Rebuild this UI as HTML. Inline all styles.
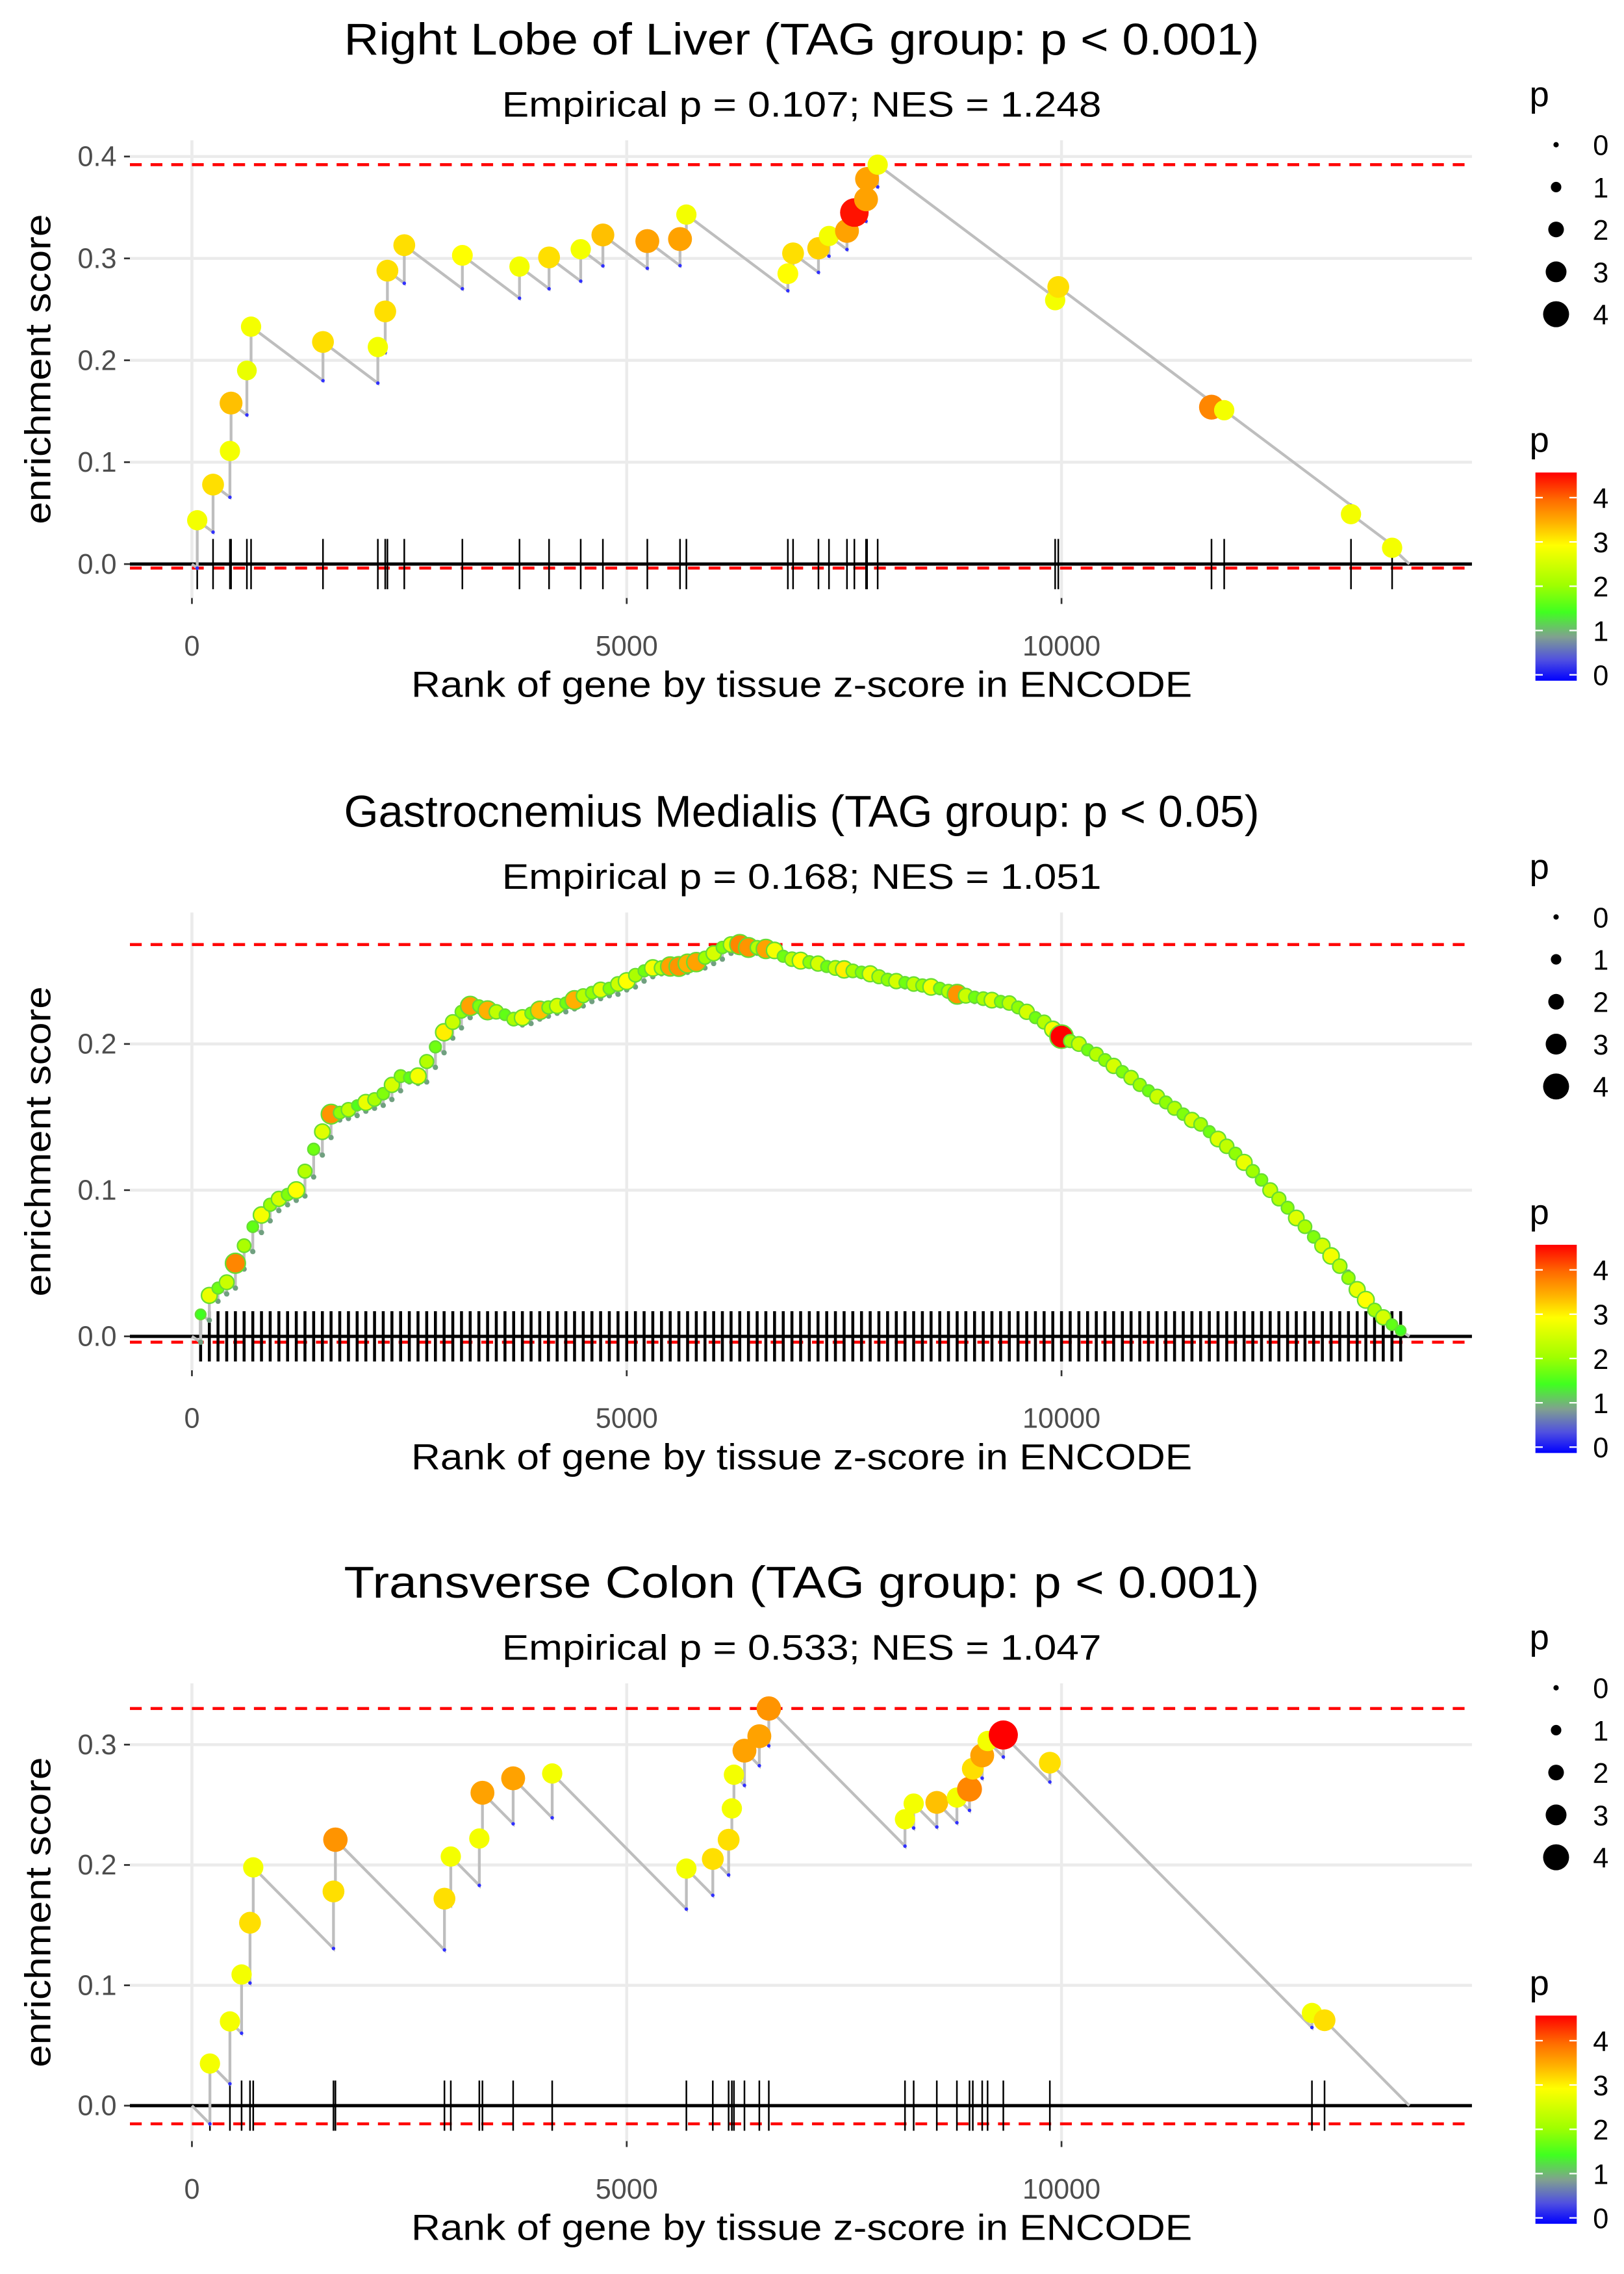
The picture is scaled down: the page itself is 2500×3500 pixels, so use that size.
<!DOCTYPE html>
<html><head><meta charset="utf-8"><style>
html,body{margin:0;padding:0;background:#fff;}
svg{display:block;}
text{font-family:"Liberation Sans",sans-serif;}
</style></head><body>
<svg id="chart" width="2500" height="3500" viewBox="0 0 1100 1540" preserveAspectRatio="none" xmlns="http://www.w3.org/2000/svg">
<defs>
<linearGradient id="pgrad" x1="0" y1="1" x2="0" y2="0">
<stop offset="0" stop-color="#0000ff"/>
<stop offset="0.1" stop-color="#5050e0"/>
<stop offset="0.21" stop-color="#80a090"/>
<stop offset="0.33" stop-color="#40ff20"/>
<stop offset="0.46" stop-color="#a0ff00"/>
<stop offset="0.65" stop-color="#ffff00"/>
<stop offset="0.76" stop-color="#ffb000"/>
<stop offset="0.87" stop-color="#ff6a00"/>
<stop offset="1" stop-color="#ff0000"/>
</linearGradient>
</defs>
</svg>
<script>
// ---------- data ----------
const N = 14000;
const xTicks = [0, 5000, 10000];
const xTickLabels = ["0", "5000", "10000"];

const titles = ["Right Lobe of Liver (TAG group: p < 0.001)", "Gastrocnemius Medialis (TAG group: p < 0.05)", "Transverse Colon (TAG group: p < 0.001)"];
const subtitles = ["Empirical p = 0.107; NES = 1.248", "Empirical p = 0.168; NES = 1.051", "Empirical p = 0.533; NES = 1.047"];

const yTicks1 = [0, 0.1, 0.2, 0.3, 0.4];
const yTicks2 = [0, 0.1, 0.2];
const yTicks3 = [0, 0.1, 0.2, 0.3];

const slope1 = 6.4e-5, slope2 = 4e-5, slope3 = 7.3e-5;

const ranks1 = [61,243,437,450,632,680,1507,2138,2223,2248,2442,3110,3767,4107,4471,4726,5237,5613,5686,6853,6913,7205,7326,7533,7618,7752,7764,7886,9927,9963,11725,11871,13329,13802];
const es1 = [0.043,0.078,0.111,0.158,0.19,0.233,0.218,0.213,0.248,0.288,0.313,0.303,0.292,0.301,0.309,0.323,0.317,0.319,0.343,0.285,0.305,0.31,0.322,0.327,0.345,0.358,0.378,0.392,0.259,0.272,0.154,0.151,0.049,0.016];
const p1 = [2.9,3.2,2.9,3.4,2.8,2.9,3.2,2.9,3.2,3.2,3.2,3.0,2.9,3.2,2.9,3.4,3.6,3.6,2.9,3.0,3.2,3.3,2.9,3.6,4.5,3.6,3.6,2.9,2.9,3.2,3.8,2.9,2.9,2.9];

const ranks2 = [];
for (let i = 1; i <= 139; i++) ranks2.push(i * 100);
const es2 = [0.015,0.028,0.033,0.037,0.05,0.062,0.075,0.083,0.09,0.094,
0.097,0.100,0.113,0.128,0.14,0.152,0.153,0.155,0.158,0.160,
0.162,0.166,0.172,0.178,0.177,0.178,0.188,0.198,0.208,0.215,
0.222,0.226,0.226,0.223,0.222,0.220,0.217,0.218,0.221,0.223,
0.225,0.226,0.228,0.23,0.233,0.235,0.237,0.238,0.241,0.243,
0.247,0.25,0.252,0.252,0.253,0.253,0.255,0.256,0.259,0.262,
0.266,0.268,0.268,0.266,0.266,0.265,0.264,0.26,0.258,0.257,
0.256,0.255,0.253,0.252,0.251,0.25,0.249,0.248,0.246,0.244,
0.243,0.242,0.241,0.24,0.239,0.238,0.236,0.234,0.233,0.232,
0.231,0.23,0.229,0.228,0.225,0.222,0.218,0.215,0.21,0.205,
0.202,0.2,0.196,0.193,0.189,0.185,0.181,0.177,0.172,0.168,
0.164,0.16,0.156,0.152,0.148,0.145,0.14,0.135,0.13,0.125,
0.119,0.113,0.107,0.1,0.094,0.088,0.081,0.075,0.068,0.062,
0.055,0.048,0.04,0.032,0.025,0.018,0.013,0.008,0.004];
const p2 = [1.5,2.8,1.8,2.5,3.8,2.2,1.7,2.9,2.1,2.6,
1.9,3.0,2.3,1.8,2.7,3.7,2.0,2.4,1.6,2.8,
2.2,1.9,2.6,2.0,1.7,2.9,2.3,1.8,3.1,2.5,
2.0,3.6,1.9,3.5,2.4,1.7,2.2,2.8,1.9,3.4,
2.1,2.6,1.8,3.5,2.3,2.0,2.7,1.9,2.5,3.0,
2.2,1.8,2.9,2.4,3.6,3.7,3.5,3.6,2.1,2.6,
1.9,2.7,3.8,3.7,2.3,3.6,2.9,1.8,2.4,3.0,
2.0,2.6,1.8,2.5,3.1,2.2,1.9,2.8,2.3,2.0,
2.6,1.8,2.4,2.1,2.9,1.9,2.3,3.7,2.5,1.8,
2.2,2.7,1.9,2.4,2.0,2.6,1.8,2.3,2.9,4.6,
2.1,2.5,1.8,2.3,2.0,2.6,1.9,2.4,2.1,1.8,
2.5,2.0,2.3,1.9,2.6,2.2,1.8,2.7,2.4,2.0,
2.8,2.1,1.9,2.5,2.3,2.0,2.7,2.2,1.9,2.6,
2.9,2.4,2.1,2.8,3.0,2.2,2.6,1.7,1.5];

const ranks3 = [207,437,571,668,705,1628,1650,2904,2977,3305,3341,3694,4143,5686,5990,6172,6209,6233,6354,6525,6634,8200,8300,8566,8797,8942,8980,9088,9150,9331,9866,12880,13025];
const es3 = [0.035,0.07,0.109,0.152,0.198,0.178,0.221,0.172,0.207,0.222,0.26,0.272,0.276,0.197,0.205,0.221,0.247,0.275,0.295,0.307,0.33,0.238,0.251,0.252,0.256,0.263,0.28,0.291,0.303,0.308,0.285,0.077,0.071];
const p3 = [2.9,2.9,2.9,3.2,2.9,3.2,3.7,3.2,2.9,2.9,3.6,3.6,2.9,2.9,3.2,3.2,2.9,2.9,3.6,3.6,3.7,2.9,2.9,3.4,2.9,3.8,3.2,3.6,2.9,4.6,3.2,2.9,3.2];

const sizeLegendValues = [0, 1, 2, 3, 4];
const colorLegendValues = [0, 1, 2, 3, 4];

// ---------- layout ----------
const svg = document.getElementById('chart');
const NS = 'http://www.w3.org/2000/svg';
const PL = 88, PR = 997, X0 = 130, XS = 0.0589;
const xScale = r => X0 + r * XS;

function el(tag, attrs, parent) {
  const e = document.createElementNS(NS, tag);
  for (const k in attrs) e.setAttribute(k, attrs[k]);
  (parent || svg).appendChild(e);
  return e;
}
function lerp(a, b, t) { return a + (b - a) * t; }
const cStops = [[0,[0,0,255]],[0.5,[80,80,224]],[1,[128,160,144]],[1.5,[64,255,32]],[2.1,[160,255,0]],[3,[255,255,0]],[3.5,[255,176,0]],[4,[255,106,0]],[4.6,[255,0,0]]];
function pColor(p) {
  if (p <= 0) return 'rgb(0,0,255)';
  for (let i = 1; i < cStops.length; i++) {
    if (p <= cStops[i][0]) {
      const t = (p - cStops[i-1][0]) / (cStops[i][0] - cStops[i-1][0]);
      const a = cStops[i-1][1], b = cStops[i][1];
      return 'rgb(' + a.map((v, j) => Math.round(lerp(v, b[j], t))).join(',') + ')';
    }
  }
  return 'rgb(255,0,0)';
}
const pRadius = p => 1.8 + 1.75 * p;

const panels = [
  {ranks: ranks1, es: es1, p: p1, slope: slope1, yTicks: yTicks1, y0: 382, ys: 690, top: 95, bottom: 405, off: 0, rugW: 1.1, ptScale: 1},
  {ranks: ranks2, es: es2, p: p2, slope: slope2, yTicks: yTicks2, y0: 905, ys: 990, top: 618, bottom: 928, off: 523, rugW: 2, ptScale: 0.8},
  {ranks: ranks3, es: es3, p: p3, slope: slope3, yTicks: yTicks3, y0: 1426, ys: 815, top: 1140, bottom: 1450, off: 1045, rugW: 1.1, ptScale: 1}
];

function txt(g, attrs, s, name, len) {
  const t = el('text', attrs, g);
  t.textContent = s;
  if (len) { t.setAttribute('textLength', len); t.setAttribute('lengthAdjust', 'spacingAndGlyphs'); }
  
  
  return t;
}

panels.forEach((P, k) => {
  const g = el('g', {});
  
  
  const yScale = v => P.y0 - v * P.ys;

  const path = [[0, 0]];
  const troughs = [];
  let cur = 0, prevR = 0;
  P.ranks.forEach((r, i) => {
    const tr = cur - P.slope * (r - prevR);
    path.push([r, tr]);
    troughs.push([r, tr]);
    path.push([r, P.es[i]]);
    cur = P.es[i]; prevR = r;
  });
  path.push([N, 0]);
  const maxES = Math.max(...path.map(d => d[1]));
  const minES = Math.min(...path.map(d => d[1]));

  P.yTicks.forEach(v => {
    const l = el('line', {x1: PL, x2: PR, y1: yScale(v), y2: yScale(v), stroke: '#ebebeb', 'stroke-width': 2}, g);
    
    
  });
  xTicks.forEach(v => {
    const l = el('line', {x1: xScale(v), x2: xScale(v), y1: P.top, y2: P.bottom, stroke: '#ebebeb', 'stroke-width': 2}, g);
    
    
  });
  P.yTicks.forEach(v => {
    const t = el('line', {x1: 84, x2: 88, y1: yScale(v), y2: yScale(v), stroke: '#333', 'stroke-width': 1.2}, g);
    
    
    txt(g, {x: 79, y: yScale(v) + 6.5, 'text-anchor': 'end', 'font-size': 19, fill: '#4d4d4d'}, v.toFixed(1), 'y-tick-label');
  });
  xTicks.forEach((v, i) => {
    const t = el('line', {x1: xScale(v), x2: xScale(v), y1: P.bottom, y2: P.bottom + 4, stroke: '#333', 'stroke-width': 1.2}, g);
    
    
    txt(g, {x: xScale(v), y: P.bottom + 39, 'text-anchor': 'middle', 'font-size': 19, fill: '#4d4d4d'}, xTickLabels[i], 'x-tick-label');
  });

  [maxES, minES].forEach((v, i) => {
    const l = el('line', {x1: PL, x2: PR, y1: yScale(v), y2: yScale(v), stroke: '#ff0000', 'stroke-width': 2, 'stroke-dasharray': '8 6'}, g);
    
    
  });
  const z = el('line', {x1: PL, x2: PR, y1: yScale(0), y2: yScale(0), stroke: '#000', 'stroke-width': 2.2}, g);
  
  
  P.ranks.forEach(r => {
    const l = el('line', {x1: xScale(r), x2: xScale(r), y1: yScale(0) - 17, y2: yScale(0) + 17, stroke: '#000', 'stroke-width': P.rugW}, g);
    
    
  });
  const pl = el('polyline', {points: path.map(d => xScale(d[0]) + ',' + yScale(d[1])).join(' '), fill: 'none', stroke: '#bebebe', 'stroke-width': 1.9}, g);
  
  
  troughs.forEach(d => {
    const c = el('circle', {cx: xScale(d[0]), cy: yScale(d[1]), r: k === 1 ? 1.8 : 1.2, fill: k === 1 ? '#70a080' : '#3030ff'}, g);
    
    
  });
  P.ranks.forEach((r, i) => {
    const c = el('circle', {cx: xScale(r), cy: yScale(P.es[i]), r: pRadius(P.p[i]) * P.ptScale, fill: pColor(P.p[i])}, g);
    if (k === 1) { c.setAttribute('stroke', '#66dd33'); c.setAttribute('stroke-width', '1'); }
    
    
  });

  txt(g, {x: 543, y: 37 + P.off, 'text-anchor': 'middle', 'font-size': 30}, titles[k], 'plot-title', 620);
  txt(g, {x: 543, y: 79 + P.off, 'text-anchor': 'middle', 'font-size': 24}, subtitles[k], 'plot-subtitle', 406);
  txt(g, {x: 543, y: P.bottom + 67, 'text-anchor': 'middle', 'font-size': 24.5}, 'Rank of gene by tissue z-score in ENCODE', 'x-axis-title', 529);
  const ym = (P.top + P.bottom) / 2;
  txt(g, {x: 34, y: ym, 'text-anchor': 'middle', 'font-size': 24.5, transform: 'rotate(-90 34 ' + ym + ')'}, 'enrichment score', 'y-axis-title', 210);

  const o = P.off;
  txt(g, {x: 1036, y: 72 + o, 'font-size': 24}, 'p', 'size-legend-title');
  sizeLegendValues.forEach((v, i) => {
    const cy = 98 + i * 28.7 + o;
    const c = el('circle', {cx: 1054, cy: cy, r: pRadius(v), fill: '#000'}, g);
    
    
    txt(g, {x: 1079, y: cy + 7, 'font-size': 19}, String(v), 'size-legend-label');
  });
  txt(g, {x: 1036, y: 306 + o, 'font-size': 24}, 'p', 'color-legend-title');
  const bar = el('rect', {x: 1040, y: 320 + o, width: 28, height: 141, fill: 'url(#pgrad)'}, g);
  
  
  colorLegendValues.forEach(v => {
    const y = 457 - v * 30 + o;
    [[1040, 1045], [1063, 1068]].forEach(xx => {
      const l = el('line', {x1: xx[0], x2: xx[1], y1: y, y2: y, stroke: '#fff', 'stroke-width': 1}, g);
      
      
    });
    txt(g, {x: 1079, y: y + 7, 'font-size': 19}, String(v), 'color-legend-label');
  });
});
</script>
</body></html>
